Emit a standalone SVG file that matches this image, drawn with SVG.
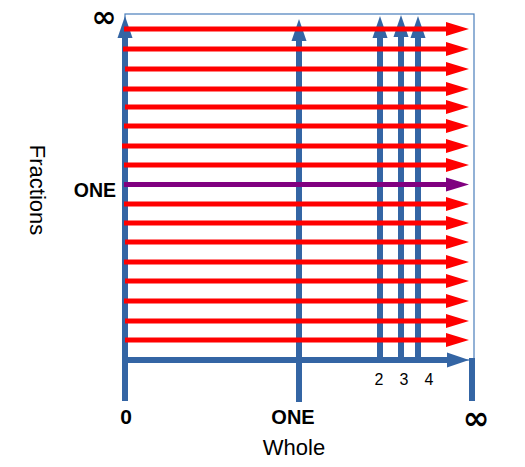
<svg xmlns="http://www.w3.org/2000/svg" width="525" height="467" viewBox="0 0 525 467">
<style>
.blue{stroke:#3465a4;stroke-width:6;fill:none}
.red{stroke:#ff0000;stroke-width:5;fill:none;marker-end:url(#hr)}
.pur{stroke:#800080;stroke-width:5;fill:none;marker-end:url(#hp)}
.bar{stroke:#3465a4;stroke-width:6;fill:none;marker-end:url(#hb)}
.t{font-family:"Liberation Sans",Arial,sans-serif;fill:#000}
.b{font-weight:bold}
.inf{font-family:"DejaVu Sans",sans-serif;font-weight:bold;fill:#000}
</style>
<defs>
<marker id="hr" markerUnits="userSpaceOnUse" markerWidth="30" markerHeight="20" refX="2" refY="0" viewBox="0 -10 30 20" orient="auto" overflow="visible"><path d="M0,-7 L23,0 L0,7 Z" fill="#ff0000"/></marker>
<marker id="hp" markerUnits="userSpaceOnUse" markerWidth="30" markerHeight="20" refX="2" refY="0" viewBox="0 -10 30 20" orient="auto" overflow="visible"><path d="M0,-7 L23,0 L0,7 Z" fill="#800080"/></marker>
<marker id="hb" markerUnits="userSpaceOnUse" markerWidth="30" markerHeight="20" refX="2" refY="0" viewBox="0 -10 30 20" orient="auto" overflow="visible"><path d="M0,-7.5 L22,0 L0,7.5 Z" fill="#3465a4"/></marker>
</defs>
<rect x="0" y="0" width="525" height="467" fill="#ffffff"/>
<g id="frame">
<rect x="125" y="14" width="349" height="346" fill="none" stroke="#4a7ebb" stroke-width="1.2"/>
<line class="blue" x1="472" y1="358" x2="472" y2="401"/>
<line class="blue" x1="125" y1="360" x2="125" y2="401"/>
<line class="blue" x1="299" y1="360" x2="299" y2="402"/>
</g>
<g id="connectors">
<line class="bar" x1="125" y1="360" x2="125" y2="36"/>
<line class="bar" x1="122" y1="360" x2="449" y2="360"/>
<line class="bar" x1="299" y1="360" x2="299" y2="39"/>
<line class="bar" x1="380" y1="358" x2="380" y2="36"/>
<line class="bar" x1="401" y1="358" x2="401" y2="35"/>
<line class="bar" x1="418" y1="358" x2="418" y2="36"/>
<line class="red" x1="124" y1="29" x2="448" y2="29"/>
<line class="red" x1="123" y1="49" x2="448" y2="49"/>
<line class="red" x1="125" y1="69" x2="448" y2="69"/>
<line class="red" x1="123" y1="89" x2="448" y2="89"/>
<line class="red" x1="125" y1="107" x2="448" y2="107"/>
<line class="red" x1="124" y1="126" x2="448" y2="126"/>
<line class="red" x1="122" y1="146" x2="448" y2="146"/>
<line class="red" x1="124" y1="165" x2="448" y2="165"/>
<line class="pur" x1="124" y1="184.5" x2="448" y2="184.5"/>
<line class="red" x1="124" y1="204" x2="448" y2="204"/>
<line class="red" x1="124" y1="223" x2="448" y2="223"/>
<line class="red" x1="125" y1="242" x2="448" y2="242"/>
<line class="red" x1="124" y1="262" x2="448" y2="262"/>
<line class="red" x1="125" y1="281" x2="448" y2="281"/>
<line class="red" x1="124" y1="301" x2="448" y2="301"/>
<line class="red" x1="125" y1="321" x2="448" y2="321"/>
<line class="red" x1="125" y1="340" x2="448" y2="340"/>
</g>
<g id="labels">
<text class="inf" x="104" y="27" font-size="30" text-anchor="middle">∞</text>
<text class="t b" x="95" y="197" font-size="19.5" text-anchor="middle">ONE</text>
<text class="t" x="38" y="190" font-size="22" text-anchor="middle" transform="rotate(90 38 190)" dy="8">Fractions</text>
<text class="t" x="379" y="385" font-size="16" text-anchor="middle">2</text>
<text class="t" x="404" y="385" font-size="16" text-anchor="middle">3</text>
<text class="t" x="429" y="385" font-size="16" text-anchor="middle">4</text>
<text class="t b" x="126" y="424" font-size="21" text-anchor="middle">0</text>
<text class="t b" x="293" y="424" font-size="20" text-anchor="middle">ONE</text>
<text class="inf" x="476" y="429" font-size="32" text-anchor="middle">∞</text>
<text class="t" x="294" y="455" font-size="22" text-anchor="middle">Whole</text>
</g>
</svg>
